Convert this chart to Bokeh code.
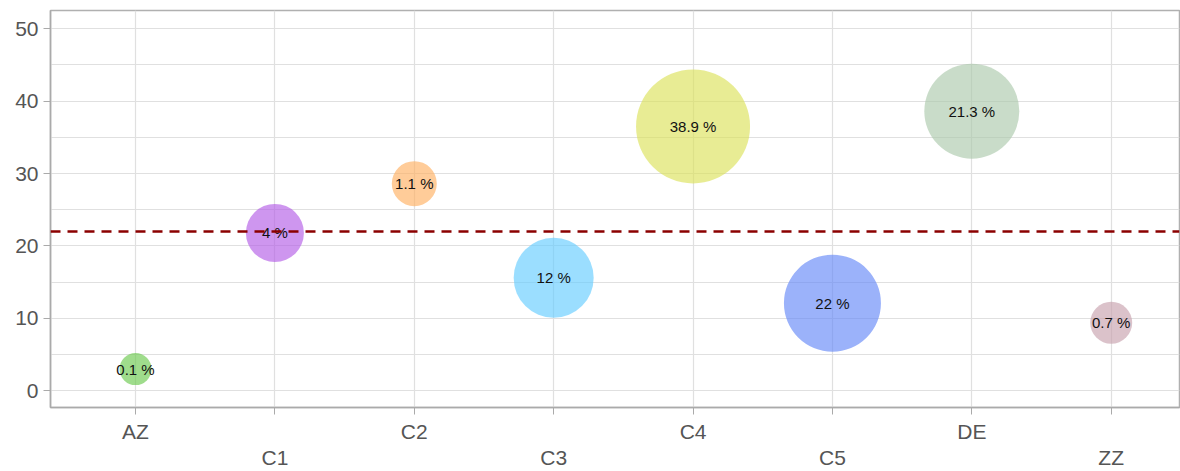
from bokeh.plotting import figure
from bokeh.models import ColumnDataSource, LinearAxis, FixedTicker, Span, Range1d
from bokeh.core.properties import value
from bokeh.embed import file_html
from bokeh.resources import INLINE

categories = ["AZ", "C1", "C2", "C3", "C4", "C5", "DE", "ZZ"]
y_values = [3.0, 21.8, 28.6, 15.6, 36.5, 12.1, 38.6, 9.4]
share_labels = ["0.1 %", "4 %", "1.1 %", "12 %", "38.9 %", "22 %", "21.3 %", "0.7 %"]
bubble_size = [32, 58, 45, 80, 114, 97, 95, 42]
colors = ["#6cc94f", "#b35ee6", "#ffb062", "#66ccff", "#dce25a", "#6688f8",
          "#acc9ac", "#c8a2ae"]
reference_value = 22.0
y_ticks = [0, 10, 20, 30, 40, 50]
y_grid = [0, 5, 10, 15, 20, 25, 30, 35, 40, 45, 50]

xs = list(range(len(categories)))
src = ColumnDataSource(dict(x=xs, y=y_values, size=bubble_size, color=colors,
                            label=share_labels))

p = figure(width=1180, height=471, output_backend="svg", toolbar_location=None,
           x_range=Range1d(-0.61, 7.49), y_range=Range1d(-2.3, 52.5),
           x_axis_location=None, min_border_left=50, min_border_top=10,
           min_border_right=1)

p.outline_line_color = "#b0b0b0"
p.outline_line_width = 1.5
p.background_fill_color = "white"
p.border_fill_color = "white"

# grid
p.xgrid.ticker = FixedTicker(ticks=xs)
p.ygrid.ticker = FixedTicker(ticks=y_grid)
p.grid.grid_line_color = "#e0e0e0"
p.grid.grid_line_width = 1.2

# y axis
p.yaxis.ticker = FixedTicker(ticks=y_ticks)
p.yaxis.axis_line_color = "#aaaaaa"
p.yaxis.axis_line_width = 1.5
p.yaxis.major_tick_line_color = "#aaaaaa"
p.yaxis.major_tick_out = 7
p.yaxis.major_tick_in = 0
p.yaxis.minor_tick_line_color = None
p.yaxis.major_label_text_font = "Liberation Sans"
p.yaxis.major_label_text_font_size = "21px"
p.yaxis.major_label_text_color = "#555555"
p.yaxis.major_label_standoff = 5

# x axes (staggered labels)
ax1 = LinearAxis(ticker=FixedTicker(ticks=xs),
                 major_label_overrides={i: (c if i % 2 == 0 else " ") for i, c in enumerate(categories)})
ax1.axis_line_color = "#aaaaaa"
ax1.axis_line_width = 1.5
ax1.major_tick_line_color = "#aaaaaa"
ax1.major_tick_out = 7
ax1.major_tick_in = 0
ax1.minor_tick_line_color = None
ax1.major_label_text_font = "Liberation Sans"
ax1.major_label_text_font_size = "21px"
ax1.major_label_text_color = "#555555"
ax1.major_label_standoff = 5
p.add_layout(ax1, "below")

odd = [i for i in xs if i % 2 == 1]
ax2 = LinearAxis(ticker=FixedTicker(ticks=odd),
                 major_label_overrides={i: categories[i] for i in odd})
ax2.axis_line_color = None
ax2.major_tick_line_color = None
ax2.minor_tick_line_color = None
ax2.major_tick_out = 0
ax2.major_tick_in = 0
ax2.major_label_text_font = "Liberation Sans"
ax2.major_label_text_font_size = "21px"
ax2.major_label_text_color = "#555555"
ax2.major_label_standoff = 0
p.add_layout(ax2, "below")

p.scatter(x="x", y="y", size="size", fill_color="color", fill_alpha=0.65,
          line_color=None, source=src)

p.add_layout(Span(location=reference_value, dimension="width", line_color="#8b0000",
                  line_width=2.5, line_dash="10 7"))

p.text(x="x", y="y", text="label", source=src, text_align="center",
       text_baseline="middle", text_font=value("Liberation Sans"),
       text_font_size="15px", text_color="#111111")

open("out.html", "w").write(file_html(p, INLINE))
